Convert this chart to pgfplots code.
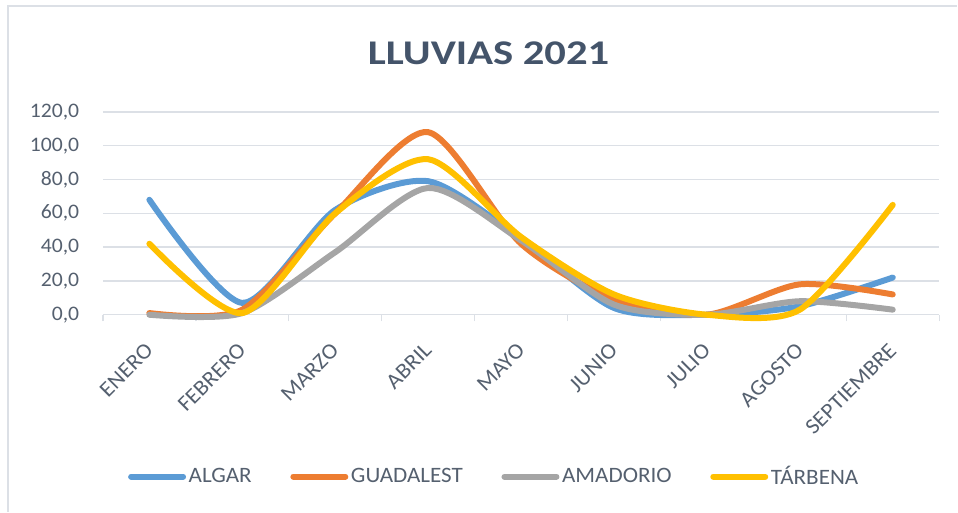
\documentclass[border=0pt]{standalone}
\usepackage{pgfplots}
\pgfplotsset{compat=1.18}
\usepackage{fontspec}
\setmainfont{Carlito}[FakeStretch=1.05]
\newfontfamily\titlefont{Carlito}[FakeStretch=1.23]
\definecolor{cAlgar}{HTML}{5B9BD5}
\definecolor{cGuad}{HTML}{ED7D31}
\definecolor{cAmad}{HTML}{A5A5A5}
\definecolor{cTarb}{HTML}{FFC000}
\definecolor{txt}{HTML}{44546A}
\definecolor{lbl}{HTML}{55606F}
\definecolor{grd}{HTML}{DCE0E6}
\begin{document}
\begin{tikzpicture}
\begin{axis}[
  at={(0pt,0pt)}, anchor=south west,
  scale only axis,
  width=627.75pt, height=152.25pt,
  xmin=-0.5, xmax=8.5, ymin=0, ymax=120,
  xtick={0,...,8},
  xticklabels={ENERO,FEBRERO,MARZO,ABRIL,MAYO,JUNIO,JULIO,AGOSTO,SEPTIEMBRE},
  minor xtick={-0.5,0.5,...,8.5},
  major x tick style={draw=none},
  minor x tick style={draw=grd, line width=1pt},
  minor tick length=5pt,
  tick align=outside,
  ytick={0,20,...,120},
  major y tick style={draw=none},
  ymajorgrids,
  grid style={draw=grd, line width=1pt},
  axis y line*=left,
  y axis line style={draw=none},
  axis x line*=bottom,
  x axis line style={draw=grd, line width=1pt},
  /pgf/number format/assume math mode=true,
  /pgf/number format/fixed,
  /pgf/number format/fixed zerofill,
  /pgf/number format/precision=1,
  /pgf/number format/use comma,
  /pgf/number format/1000 sep={},
  yticklabel style={font=\fontsize{15.5}{18}\selectfont, text=lbl, xshift=-10pt},
  xticklabel style={font=\fontsize{16.5}{19}\selectfont, text=lbl, xshift=-4pt, yshift=-11.2pt, rotate=45, anchor=north east},
  every axis plot/.append style={line width=4.5pt, line cap=round, smooth, tension=0.45},
  legend columns=4,
  legend style={draw=none, fill=none, at={(axis description cs:0.4683,-0.798)}, anchor=center,
    font=\fontsize{16.5}{19}\selectfont, text=lbl,
    /tikz/every even column/.append style={column sep=27pt},
    nodes={inner xsep=2pt}},
  legend image code/.code={\draw[#1, line cap=round] (0pt,0pt) -- (39pt,0pt);},
  clip=false,
]
\addplot[cAlgar] coordinates {(0,68) (1,7) (2,62) (3,79) (4,45) (5,4) (6,0) (7,5) (8,22)};
\addlegendentry{ALGAR}
\addplot[cGuad] coordinates {(0,1) (1,3) (2,60) (3,108) (4,42) (5,9) (6,0) (7,18) (8,12)};
\addlegendentry{GUADALEST}
\addplot[cAmad] coordinates {(0,0) (1,1) (2,37) (3,75) (4,44) (5,6) (6,0) (7,8) (8,3)};
\addlegendentry{AMADORIO}
\addplot[cTarb] coordinates {(0,42) (1,1) (2,60) (3,92) (4,46) (5,12) (6,0) (7,3) (8,65)};
\addlegendentry{TÁRBENA}
\end{axis}
\node[anchor=base, text=txt, font=\fontsize{26}{30}\selectfont\titlefont\bfseries] at (289.5pt,187.5pt) {LLUVIAS 2021};
\draw[grd, line width=1.2pt] (-71.25pt,-147.75pt) -- (-71.25pt,231.75pt) -- (641.25pt,231.75pt);
\useasboundingbox (-77.25pt,-147.75pt) rectangle (641.25pt,236.25pt);
\end{tikzpicture}
\end{document}
